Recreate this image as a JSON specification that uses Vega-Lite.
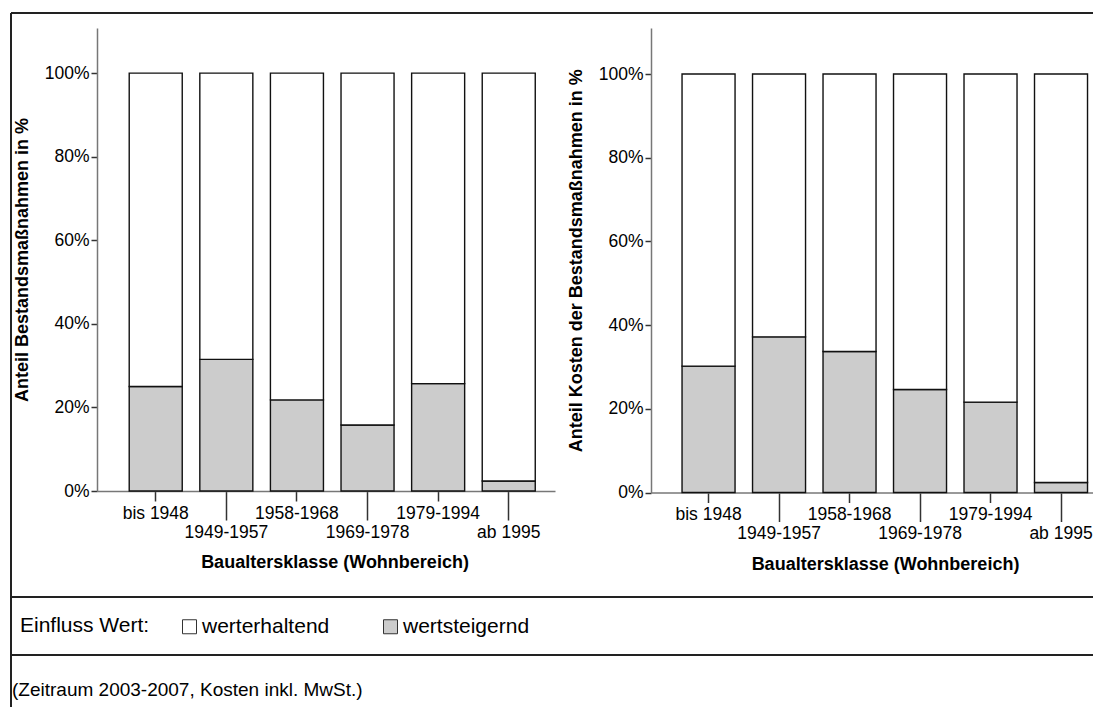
{
  "$schema": "https://vega.github.io/schema/vega-lite/v6.json",
  "padding": {"left": 10, "top": 12, "right": 0, "bottom": 0},
  "autosize": {"type": "pad"},
  "background": "white",
  "bounds": "flush",
  "spacing": 0,
  "config": {
    "font": "Liberation Sans",
    "view": {"stroke": null},
    "axis": {
      "grid": false,
      "labelFont": "Liberation Sans",
      "titleFont": "Liberation Sans",
      "labelColor": "black",
      "titleColor": "black",
      "labelFontSize": 17.5,
      "titleFontSize": 18,
      "titleFontWeight": "bold",
      "domainColor": "#777777",
      "domainWidth": 1.5,
      "tickColor": "#333333",
      "tickWidth": 1.5
    }
  },
  "datasets": {
    "mass": [
      {"klasse": "bis 1948", "einfluss": "wertsteigernd", "anteil": 25.0},
      {"klasse": "bis 1948", "einfluss": "werterhaltend", "anteil": 75.0},
      {"klasse": "1949-1957", "einfluss": "wertsteigernd", "anteil": 31.5},
      {"klasse": "1949-1957", "einfluss": "werterhaltend", "anteil": 68.5},
      {"klasse": "1958-1968", "einfluss": "wertsteigernd", "anteil": 21.8},
      {"klasse": "1958-1968", "einfluss": "werterhaltend", "anteil": 78.2},
      {"klasse": "1969-1978", "einfluss": "wertsteigernd", "anteil": 15.8},
      {"klasse": "1969-1978", "einfluss": "werterhaltend", "anteil": 84.2},
      {"klasse": "1979-1994", "einfluss": "wertsteigernd", "anteil": 25.7},
      {"klasse": "1979-1994", "einfluss": "werterhaltend", "anteil": 74.3},
      {"klasse": "ab 1995", "einfluss": "wertsteigernd", "anteil": 2.4},
      {"klasse": "ab 1995", "einfluss": "werterhaltend", "anteil": 97.6}
    ],
    "kosten": [
      {"klasse": "bis 1948", "einfluss": "wertsteigernd", "anteil": 30.2},
      {"klasse": "bis 1948", "einfluss": "werterhaltend", "anteil": 69.8},
      {"klasse": "1949-1957", "einfluss": "wertsteigernd", "anteil": 37.2},
      {"klasse": "1949-1957", "einfluss": "werterhaltend", "anteil": 62.8},
      {"klasse": "1958-1968", "einfluss": "wertsteigernd", "anteil": 33.7},
      {"klasse": "1958-1968", "einfluss": "werterhaltend", "anteil": 66.3},
      {"klasse": "1969-1978", "einfluss": "wertsteigernd", "anteil": 24.6},
      {"klasse": "1969-1978", "einfluss": "werterhaltend", "anteil": 75.4},
      {"klasse": "1979-1994", "einfluss": "wertsteigernd", "anteil": 21.6},
      {"klasse": "1979-1994", "einfluss": "werterhaltend", "anteil": 78.4},
      {"klasse": "ab 1995", "einfluss": "wertsteigernd", "anteil": 2.4},
      {"klasse": "ab 1995", "einfluss": "werterhaltend", "anteil": 97.6}
    ]
  },
  "vconcat": [
    {
      "width": 1082,
      "height": 584,
      "layer": [
        {
          "data": {"values": [{}]},
          "mark": {"type": "rule", "color": "#222222", "strokeWidth": 2},
          "encoding": {"x": {"value": 0}, "x2": {"value": "width"}, "y": {"value": 0}}
        },
        {
          "data": {"values": [{}]},
          "mark": {"type": "rule", "color": "#222222", "strokeWidth": 2},
          "encoding": {"x": {"value": 0}, "y": {"value": 0}, "y2": {"value": "height"}}
        },
        {
          "data": {"name": "mass"},
          "mark": {"type": "bar", "stroke": "#111111", "strokeWidth": 1.4},
          "encoding": {
            "x": {
              "field": "klasse", "type": "nominal", "sort": null,
              "scale": {"range": [86, 544], "paddingInner": 0.249, "paddingOuter": 0.368, "align": 0.62},
              "axis": {
                "orient": "bottom", "offset": -106, "labelAngle": 0,
                "title": "Baualtersklasse (Wohnbereich)",
                "tickSize": {"condition": {"test": "indexof(['1949-1957','1969-1978','ab 1995'], datum.value) >= 0", "value": 29}, "value": 10},
                "labelPadding": 3, "titlePadding": 13, "titleX": 323.5
              }
            },
            "y": {
              "field": "anteil", "type": "quantitative", "stack": "zero",
              "scale": {"domain": [0, 110.8], "range": [478, 15], "nice": false},
              "axis": {
                "orient": "left", "offset": -86, "values": [0, 20, 40, 60, 80, 100],
                "labelExpr": "datum.value + '%'", "tickSize": 6, "labelPadding": 2,
                "title": "Anteil Bestandsmaßnahmen in %", "titlePadding": 13
              }
            },
            "color": {
              "field": "einfluss", "type": "nominal",
              "scale": {"domain": ["werterhaltend", "wertsteigernd"], "range": ["#ffffff", "#cccccc"]},
              "legend": {
                "title": "Einfluss Wert:", "orient": "none", "legendX": 9, "legendY": 603,
                "direction": "horizontal", "titleOrient": "left", "titleFontWeight": "normal",
                "titleAnchor": "middle", "titleBaseline": "middle",
                "titleFontSize": 21, "titlePadding": 29, "labelFontSize": 21,
                "titleColor": "black", "labelColor": "black",
                "symbolType": "square", "symbolSize": 196, "symbolStrokeColor": "#333333",
                "symbolStrokeWidth": 1, "labelOffset": 2, "columnPadding": 50
              }
            },
            "order": {"field": "einfluss", "sort": "descending"}
          }
        },
        {
          "data": {"name": "kosten"},
          "mark": {"type": "bar", "stroke": "#111111", "strokeWidth": 1.4},
          "encoding": {
            "x": {
              "field": "klasse", "type": "nominal", "sort": null,
              "scale": {"range": [640, 1082], "paddingInner": 0.248, "paddingOuter": 0.259, "align": 0.85},
              "axis": {
                "orient": "bottom", "offset": -104.5, "labelAngle": 0,
                "title": "Baualtersklasse (Wohnbereich)",
                "tickSize": {"condition": {"test": "indexof(['1949-1957','1969-1978','ab 1995'], datum.value) >= 0", "value": 29}, "value": 10},
                "labelPadding": 3, "titlePadding": 13, "titleX": 874
              }
            },
            "y": {
              "field": "anteil", "type": "quantitative", "stack": "zero",
              "scale": {"domain": [0, 111.0], "range": [479.5, 15], "nice": false},
              "axis": {
                "orient": "left", "offset": -640, "values": [0, 20, 40, 60, 80, 100],
                "labelExpr": "datum.value + '%'", "tickSize": 6, "labelPadding": 2,
                "title": "Anteil Kosten der Bestandsmaßnahmen in %", "titlePadding": 13
              }
            },
            "color": {
              "field": "einfluss", "type": "nominal",
              "scale": {"domain": ["werterhaltend", "wertsteigernd"], "range": ["#ffffff", "#cccccc"]},
              "legend": {
                "title": "Einfluss Wert:", "orient": "none", "legendX": 9, "legendY": 603,
                "direction": "horizontal", "titleOrient": "left", "titleFontWeight": "normal",
                "titleAnchor": "middle", "titleBaseline": "middle",
                "titleFontSize": 21, "titlePadding": 29, "labelFontSize": 21,
                "titleColor": "black", "labelColor": "black",
                "symbolType": "square", "symbolSize": 196, "symbolStrokeColor": "#333333",
                "symbolStrokeWidth": 1, "labelOffset": 2, "columnPadding": 50
              }
            },
            "order": {"field": "einfluss", "sort": "descending"}
          }
        }
      ],
      "resolve": {
        "scale": {"x": "independent", "y": "independent"},
        "axis": {"x": "independent", "y": "independent"}
      }
    },
    {
      "width": 1082,
      "height": 58,
      "data": {"values": [{}]},
      "layer": [
        {
          "mark": {"type": "rule", "color": "#222222", "strokeWidth": 2},
          "encoding": {"x": {"value": 0}, "x2": {"value": "width"}, "y": {"value": 0}}
        },
        {
          "mark": {"type": "rule", "color": "#222222", "strokeWidth": 2},
          "encoding": {"x": {"value": 0}, "y": {"value": 0}, "y2": {"value": "height"}}
        }
      ]
    },
    {
      "width": 1082,
      "height": 52,
      "data": {"values": [{"note": "(Zeitraum 2003-2007, Kosten inkl. MwSt.)"}]},
      "layer": [
        {
          "mark": {"type": "rule", "color": "#222222", "strokeWidth": 2},
          "encoding": {"x": {"value": 0}, "x2": {"value": "width"}, "y": {"value": 0}}
        },
        {
          "mark": {"type": "rule", "color": "#222222", "strokeWidth": 2},
          "encoding": {"x": {"value": 0}, "y": {"value": 0}, "y2": {"value": "height"}}
        },
        {
          "mark": {"type": "text", "align": "left", "baseline": "middle", "fontSize": 19, "color": "black", "dx": 1},
          "encoding": {"text": {"field": "note"}, "x": {"value": 0}, "y": {"value": 35}}
        }
      ]
    }
  ]
}
